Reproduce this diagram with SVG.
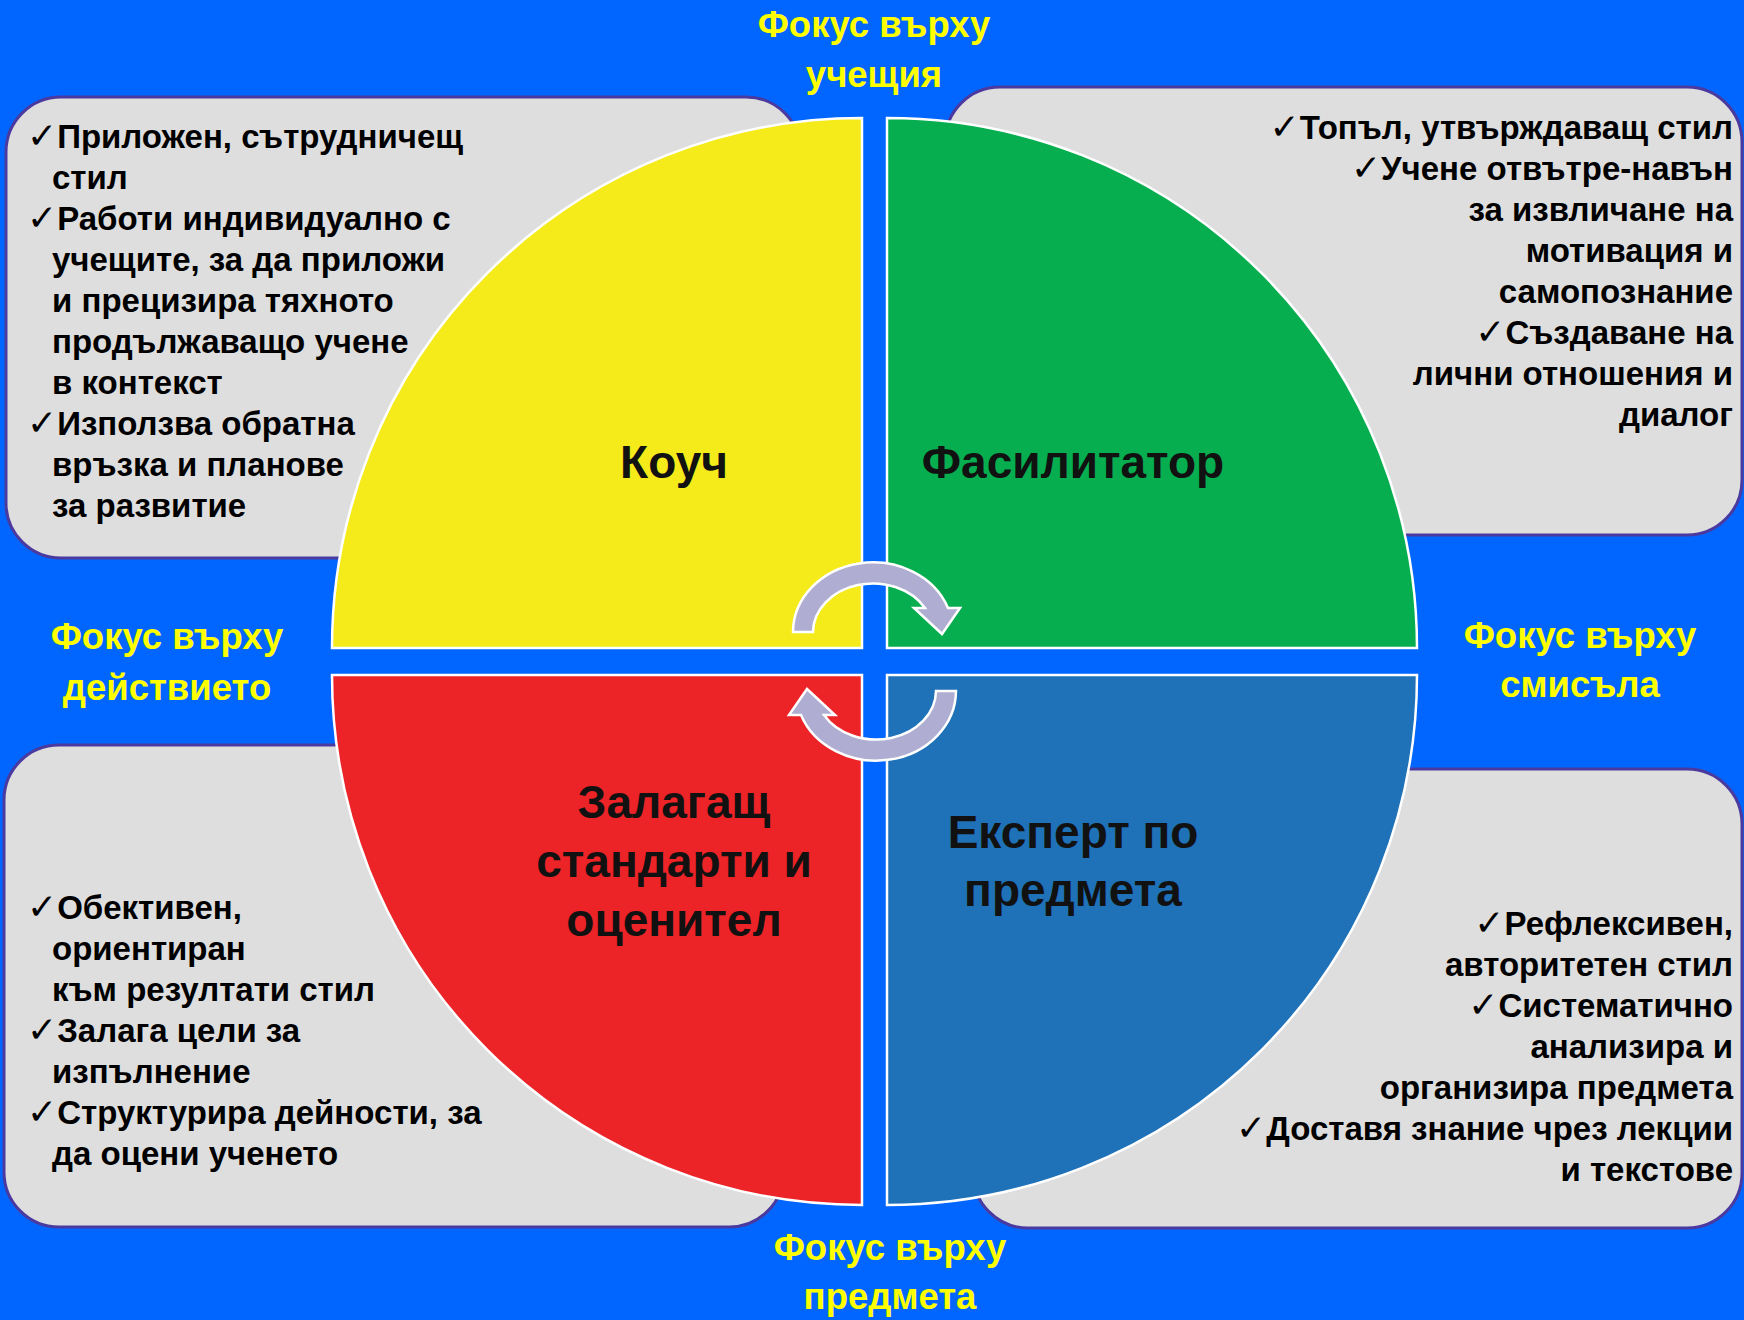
<svg xmlns="http://www.w3.org/2000/svg" xmlns:xlink="http://www.w3.org/1999/xlink" width="1744" height="1320" viewBox="0 0 1744 1320">
  <defs>
    <style>
      .box { fill: #DEDEDE; stroke: #4A3AA0; stroke-width: 3; }
      .quad { stroke: #FFFFFF; stroke-width: 2.5; }
      .txt { font-family: "Liberation Sans", Arial, sans-serif; font-weight: bold; font-size: 33px; fill: #000000; }
      .chk { font-family: "DejaVu Sans", sans-serif; font-weight: normal; font-size: 36px; }
      .focus { font-family: "Liberation Sans", Arial, sans-serif; font-weight: bold; font-size: 36.5px; fill: #FFFF00; text-anchor: middle; }
      .qlabel { font-family: "Liberation Sans", Arial, sans-serif; font-weight: bold; font-size: 46px; fill: #111111; text-anchor: middle; }
      .arrow { fill: #AFAED2; stroke: #FFFFFF; stroke-width: 2.5; stroke-linejoin: miter; }
    </style>
    <path id="cycleArrow" d="M 793 632 A 80 70 0 0 1 948 608 L 960 608 L 942 634 L 914 608 L 925 608 A 60 49 0 0 0 813 632 Z"/>
  </defs>

  <rect x="0" y="0" width="1744" height="1320" fill="#0066FF"/>

  <!-- description boxes -->
  <g id="box-coach">
    <rect class="box" x="6" y="97" width="795" height="461" rx="55" ry="55"/>
  </g>
  <g id="box-facilitator">
    <rect class="box" x="945" y="87" width="797" height="448" rx="55" ry="55"/>
  </g>
  <g id="box-standards">
    <rect class="box" x="4" y="745" width="780" height="482" rx="55" ry="55"/>
  </g>
  <g id="box-expert">
    <rect class="box" x="973" y="769" width="769" height="459" rx="55" ry="55"/>
  </g>

  <!-- quadrants -->
  <g id="coach">
    <path class="quad" fill="#F5EB1A" d="M 862 648 L 332 648 A 530 530 0 0 1 862 118 Z"/>
    <text class="qlabel" x="674" y="478">Коуч</text>
  </g>
  <g id="facilitator">
    <path class="quad" fill="#06AE50" d="M 887 648 L 887 118 A 530 530 0 0 1 1417 648 Z"/>
    <text class="qlabel" x="1073" y="478">Фасилитатор</text>
  </g>
  <g id="standards">
    <path class="quad" fill="#EC2327" d="M 862 675 L 862 1205 A 530 530 0 0 1 332 675 Z"/>
    <text class="qlabel" x="674" y="818">Залагащ</text>
    <text class="qlabel" x="674" y="877">стандарти и</text>
    <text class="qlabel" x="674" y="936">оценител</text>
  </g>
  <g id="expert">
    <path class="quad" fill="#1F71B8" d="M 887 675 L 1417 675 A 530 530 0 0 1 887 1205 Z"/>
    <text class="qlabel" x="1073" y="848">Експерт по</text>
    <text class="qlabel" x="1073" y="906">предмета</text>
  </g>

  <!-- connectors (cycle arrows) -->
  <g id="connectors">
    <use xlink:href="#cycleArrow" href="#cycleArrow" class="arrow"/>
    <use xlink:href="#cycleArrow" href="#cycleArrow" class="arrow" transform="rotate(180 874.5 661.5)"/>
  </g>

  <!-- box texts -->
  <g id="text-coach" class="txt">
    <text x="27" y="148"><tspan class="chk">✓</tspan>Приложен, сътрудничещ</text>
    <text x="52" y="189">стил</text>
    <text x="27" y="230"><tspan class="chk">✓</tspan>Работи индивидуално с</text>
    <text x="52" y="271">учещите, за да приложи</text>
    <text x="52" y="312">и прецизира тяхното</text>
    <text x="52" y="353">продължаващо учене</text>
    <text x="52" y="394">в контекст</text>
    <text x="27" y="435"><tspan class="chk">✓</tspan>Използва обратна</text>
    <text x="52" y="476">връзка и планове</text>
    <text x="52" y="517">за развитие</text>
  </g>
  <g id="text-facilitator" class="txt" text-anchor="end">
    <text x="1733" y="139"><tspan class="chk">✓</tspan>Топъл, утвърждаващ стил</text>
    <text x="1733" y="180"><tspan class="chk">✓</tspan>Учене отвътре-навън</text>
    <text x="1733" y="221">за извличане на</text>
    <text x="1733" y="262">мотивация и</text>
    <text x="1733" y="303">самопознание</text>
    <text x="1733" y="344"><tspan class="chk">✓</tspan>Създаване на</text>
    <text x="1733" y="385">лични отношения и</text>
    <text x="1733" y="426">диалог</text>
  </g>
  <g id="text-standards" class="txt">
    <text x="27" y="919"><tspan class="chk">✓</tspan>Обективен,</text>
    <text x="52" y="960">ориентиран</text>
    <text x="52" y="1001">към резултати стил</text>
    <text x="27" y="1042"><tspan class="chk">✓</tspan>Залага цели за</text>
    <text x="52" y="1083">изпълнение</text>
    <text x="27" y="1124"><tspan class="chk">✓</tspan>Структурира дейности, за</text>
    <text x="52" y="1165">да оцени ученето</text>
  </g>
  <g id="text-expert" class="txt" text-anchor="end">
    <text x="1733" y="935"><tspan class="chk">✓</tspan>Рефлексивен,</text>
    <text x="1733" y="976">авторитетен стил</text>
    <text x="1733" y="1017"><tspan class="chk">✓</tspan>Систематично</text>
    <text x="1733" y="1058">анализира и</text>
    <text x="1733" y="1099">организира предмета</text>
    <text x="1733" y="1140"><tspan class="chk">✓</tspan>Доставя знание чрез лекции</text>
    <text x="1733" y="1181">и текстове</text>
  </g>

  <!-- focus labels -->
  <g id="focus-learner">
    <text class="focus" x="874" y="37">Фокус върху</text>
    <text class="focus" x="874" y="87">учещия</text>
  </g>
  <g id="focus-action">
    <text class="focus" x="167" y="649">Фокус върху</text>
    <text class="focus" x="167" y="700">действието</text>
  </g>
  <g id="focus-meaning">
    <text class="focus" x="1580" y="648">Фокус върху</text>
    <text class="focus" x="1580" y="697">смисъла</text>
  </g>
  <g id="focus-subject">
    <text class="focus" x="890" y="1260">Фокус върху</text>
    <text class="focus" x="890" y="1309">предмета</text>
  </g>
</svg>
